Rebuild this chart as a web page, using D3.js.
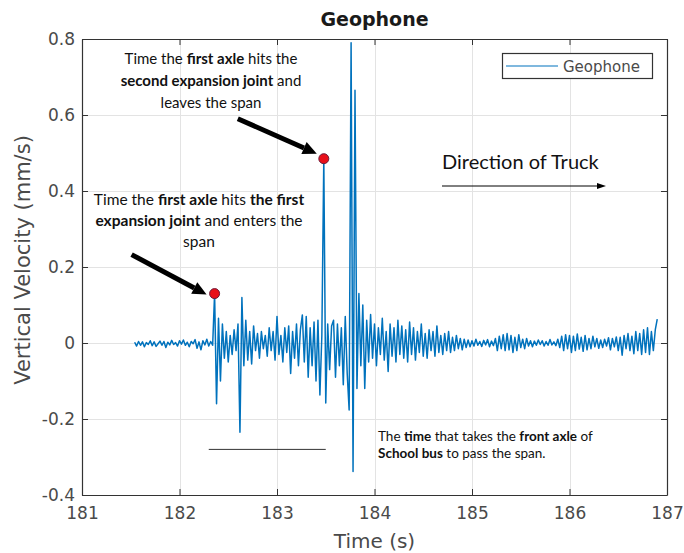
<!DOCTYPE html>
<html>
<head>
<meta charset="utf-8">
<script src="https://cdn.jsdelivr.net/npm/d3@7"></script>
<style>
  body { margin: 0; background: #fff; }
  svg { display: block; }
</style>
</head>
<body>
<svg id="chart" width="684" height="553"></svg>
<script>
// ---- data ----
const xTicks = [181, 182, 183, 184, 185, 186, 187];
const xTickLabels = ["181", "182", "183", "184", "185", "186", "187"];
const yTicks = [-0.4, -0.2, 0, 0.2, 0.4, 0.6, 0.8];
const yTickLabels = ["-0.4", "-0.2", "0", "0.2", "0.4", "0.6", "0.8"];
const seriesName = "Geophone";

// geophone record: uniformly sampled vertical velocity (mm/s)
const timeStart = 181.54;
const sampleStep = 0.02;
const velocity = [
  0.002, -0.008, 0.004, -0.006, 0.003, -0.01, 0.001, -0.004, 0.006, -0.007,
  0.003, -0.009, -0.002, 0.005, -0.006, 0.004, -0.012, 0.002, -0.005, 0.007,
  -0.004, 0.001, -0.008, 0.006, -0.003, 0.008, -0.006, 0.002, -0.01, 0.004,
  -0.002, 0.009, -0.014, 0.003, -0.018, 0.006, -0.005, 0.01, -0.008, 0.004,
  -0.006, 0.13, -0.16, 0.065, -0.1, 0.05, -0.04, 0.03, -0.05, 0.02,
  -0.03, 0.035, -0.02, 0.05, -0.235, 0.12, -0.06, 0.06, -0.045, 0.03,
  -0.055, 0.045, -0.02, 0.025, -0.04, 0.03, -0.015, 0.02, -0.035, 0.04,
  -0.02, 0.03, -0.045, 0.07, -0.03, 0.02, -0.05, 0.04, -0.025, 0.045,
  -0.08, 0.03, -0.04, 0.05, -0.06, 0.035, 0.074, -0.05, 0.07, -0.09,
  0.04, -0.06, 0.055, -0.1, 0.06, -0.137, 0.02, 0.485, -0.158, 0.05,
  -0.07, 0.045, 0.06, -0.09, 0.05, -0.06, 0.04, -0.11, 0.07, -0.08,
  -0.176, 0.79, -0.338, 0.665, -0.12, 0.13, -0.06, 0.1, -0.12, 0.06,
  -0.05, 0.075, -0.04, 0.05, -0.06, 0.04, -0.03, 0.065, -0.045, 0.03,
  -0.075, 0.05, -0.035, 0.04, -0.05, 0.06, -0.03, 0.045, -0.04, 0.035,
  -0.05, 0.055, -0.03, 0.04, -0.045, 0.03, -0.025, 0.05, -0.035, 0.025,
  -0.04, 0.035, -0.02, 0.03, -0.035, 0.045, -0.025, 0.02, -0.03, 0.025,
  -0.02, 0.03, -0.025, 0.015, -0.02, 0.02, -0.015, 0.012, -0.018, 0.01,
  -0.012, 0.008, -0.01, 0.006, -0.008, 0.01, -0.006, 0.004, -0.009, 0.007,
  -0.005, 0.009, -0.01, 0.005, -0.007, 0.012, -0.02, 0.018, -0.015, 0.022,
  -0.02, 0.025, -0.018, 0.02, -0.025, 0.015, -0.02, 0.022, -0.012, 0.01,
  -0.015, 0.012, -0.008, 0.006, -0.01, 0.005, -0.006, 0.008, -0.004, 0.006,
  -0.008, 0.004, -0.006, 0.009, -0.005, 0.003, -0.007, 0.01, -0.012, 0.018,
  -0.02, 0.022, -0.015, 0.02, -0.025, 0.018, -0.02, 0.024, -0.016, 0.015,
  -0.022, 0.02, -0.018, 0.012, -0.015, 0.018, -0.01, 0.012, -0.014, 0.008,
  -0.012, 0.01, -0.008, 0.014, -0.018, 0.012, -0.01, 0.016, -0.02, 0.015,
  -0.032, 0.02, -0.015, 0.025, -0.02, 0.018, -0.028, 0.03, -0.02, 0.025,
  -0.03, 0.035, -0.025, 0.04, -0.03, 0.03, -0.02, 0.035, 0.063
];

// axle impacts at the two expansion joints
const eventTimes = [182.36, 183.48];
const eventValues = [0.13, 0.485];

// time taken by the front axle to cross the span
const spanTimes = [182.3, 183.5];
const spanLevel = -0.28;

// ---- layout ----
const svg = d3.select("#chart");
const W = 684, H = 553;
const plotLeft = 82, plotRight = 667, plotTop = 39, plotBottom = 495;
const axisColor = "#333333";
const labelColor = "#4a4a4a";
const lineColor = "#0072BD";
const uiFont = "'DejaVu Sans', sans-serif";
const noteFont = "Lato, 'Open Sans', sans-serif";

const x = d3.scaleLinear().domain([181, 187]).range([plotLeft, plotRight]);
const y = d3.scaleLinear().domain([-0.4, 0.8]).range([plotBottom, plotTop]);

svg.append("rect").attr("width", W).attr("height", H).attr("fill", "#fff");

// grid
const grid = svg.append("g").attr("stroke", "#e3e3e3").attr("stroke-width", 1);
grid.selectAll("line.gx").data(xTicks).join("line")
  .attr("x1", d => Math.round(x(d)) + 0.5).attr("x2", d => Math.round(x(d)) + 0.5)
  .attr("y1", plotTop).attr("y2", plotBottom);
grid.selectAll("line.gy").data(yTicks).join("line")
  .attr("y1", d => Math.round(y(d)) + 0.5).attr("y2", d => Math.round(y(d)) + 0.5)
  .attr("x1", plotLeft).attr("x2", plotRight);

// signal
const points = velocity.map((v, i) => [timeStart + i * sampleStep, v]);
const line = d3.line().x(d => x(d[0])).y(d => y(d[1]));
svg.append("path")
  .datum(points)
  .attr("d", line)
  .attr("fill", "none")
  .attr("stroke", lineColor)
  .attr("stroke-width", 1.5)
  .attr("stroke-linejoin", "round");

// axes (box with inward ticks)
function styleAxis(g) {
  g.select(".domain").attr("stroke", axisColor).attr("stroke-width", 1.2);
  g.selectAll(".tick line").attr("stroke", axisColor).attr("stroke-width", 1);
  g.selectAll(".tick text").attr("fill", labelColor)
    .style("font-family", uiFont).style("font-size", "17px");
}
const xAxis = d3.axisBottom(x).tickValues(xTicks)
  .tickFormat((d, i) => xTickLabels[i]).tickSizeInner(-6).tickSizeOuter(0).tickPadding(12);
const yAxis = d3.axisLeft(y).tickValues(yTicks)
  .tickFormat((d, i) => yTickLabels[i]).tickSizeInner(-6).tickSizeOuter(0).tickPadding(7);
svg.append("g").attr("transform", `translate(0,${plotBottom})`).call(xAxis).call(styleAxis);
svg.append("g").attr("transform", `translate(${plotLeft},0)`).call(yAxis).call(styleAxis);
svg.append("g").attr("transform", `translate(0,${plotTop})`)
  .call(d3.axisTop(x).tickValues(xTicks).tickFormat("").tickSizeInner(-6).tickSizeOuter(0))
  .call(styleAxis);
svg.append("g").attr("transform", `translate(${plotRight},0)`)
  .call(d3.axisRight(y).tickValues(yTicks).tickFormat("").tickSizeInner(-6).tickSizeOuter(0))
  .call(styleAxis);

// title and axis labels
svg.append("text").attr("x", (plotLeft + plotRight) / 2).attr("y", 26)
  .attr("text-anchor", "middle").attr("fill", "#1a1a1a")
  .style("font-family", uiFont).style("font-size", "19px").style("font-weight", "bold")
  .text("Geophone");
svg.append("text").attr("x", (plotLeft + plotRight) / 2).attr("y", 548)
  .attr("text-anchor", "middle").attr("fill", labelColor)
  .style("font-family", uiFont).style("font-size", "20px")
  .text("Time (s)");
svg.append("text")
  .attr("transform", `translate(30,260) rotate(-90)`)
  .attr("text-anchor", "middle").attr("fill", labelColor)
  .style("font-family", uiFont).style("font-size", "21px")
  .text("Vertical Velocity (mm/s)");

// legend
const lg = svg.append("g");
lg.append("rect").attr("x", 502.5).attr("y", 53.5).attr("width", 150).attr("height", 25)
  .attr("fill", "#fff").attr("stroke", axisColor).attr("stroke-width", 1.2);
lg.append("line").attr("x1", 506).attr("x2", 558).attr("y1", 66).attr("y2", 66)
  .attr("stroke", lineColor).attr("stroke-width", 1.2);
lg.append("text").attr("x", 563).attr("y", 71.5).attr("fill", labelColor)
  .style("font-family", uiFont).style("font-size", "15px").text(seriesName);

// annotations
function arrow(x1, y1, x2, y2, w, headLen, headW) {
  const a = Math.atan2(y2 - y1, x2 - x1);
  const bx = x2 - headLen * Math.cos(a), by = y2 - headLen * Math.sin(a);
  svg.append("line").attr("x1", x1).attr("y1", y1).attr("x2", bx).attr("y2", by)
    .attr("stroke", "#000").attr("stroke-width", w);
  const px = -Math.sin(a) * headW / 2, py = Math.cos(a) * headW / 2;
  svg.append("path")
    .attr("d", `M${x2},${y2}L${bx + px},${by + py}L${bx - px},${by - py}Z`)
    .attr("fill", "#000");
}

function note(cx, baseline, lines, size, lh, anchor) {
  const t = svg.append("text").attr("fill", "#111")
    .attr("text-anchor", anchor || "middle")
    .style("font-family", noteFont).style("font-size", size + "px");
  lines.forEach((segs, li) => {
    segs.forEach((s, si) => {
      const ts = t.append("tspan").text(s[0]).style("font-weight", s[1] ? "bold" : "normal");
      if (si === 0) ts.attr("x", cx).attr("y", baseline + li * lh);
    });
  });
}

note(211, 64, [
  [["Time the ", 0], ["first axle", 1], [" hits the", 0]],
  [["second expansion joint", 1], [" and", 0]],
  [["leaves the span", 0]]
], 15, 22);

note(199, 205, [
  [["Time the ", 0], ["first axle", 1], [" hits ", 0], ["the first", 1]],
  [["expansion joint", 1], [" and enters the", 0]],
  [["span", 0]]
], 15.5, 21);

note(378, 441, [
  [["The ", 0], ["time", 1], [" that takes the ", 0], ["front axle", 1], [" of", 0]],
  [["School bus", 1], [" to pass the span.", 0]]
], 13.5, 17, "start");

svg.append("text").attr("x", 442).attr("y", 169).attr("fill", "#111")
  .style("font-family", noteFont).style("font-size", "20px").text("Direction of Truck");
arrow(442, 186, 606, 186, 1, 9, 6);

// pointer arrows toward the joint impacts
const p1 = [x(eventTimes[0]), y(eventValues[0])];
const p2 = [x(eventTimes[1]), y(eventValues[1])];
arrow(p2[0] - 86, p2[1] - 40, p2[0] - 7, p2[1] - 5, 5, 14, 13);
arrow(p1[0] - 83, p1[1] - 39, p1[0] - 8, p1[1] + 1, 5, 14, 13);

// span bar
svg.append("line")
  .attr("x1", x(spanTimes[0])).attr("x2", x(spanTimes[1]))
  .attr("y1", y(spanLevel)).attr("y2", y(spanLevel))
  .attr("stroke", "#333").attr("stroke-width", 1);

// event markers
svg.selectAll("circle.event").data(eventTimes).join("circle")
  .attr("cx", d => x(d)).attr("cy", (d, i) => y(eventValues[i]))
  .attr("r", 5).attr("fill", "#e8101a").attr("stroke", "#6b1b3a").attr("stroke-width", 1);
</script>
</body>
</html>
